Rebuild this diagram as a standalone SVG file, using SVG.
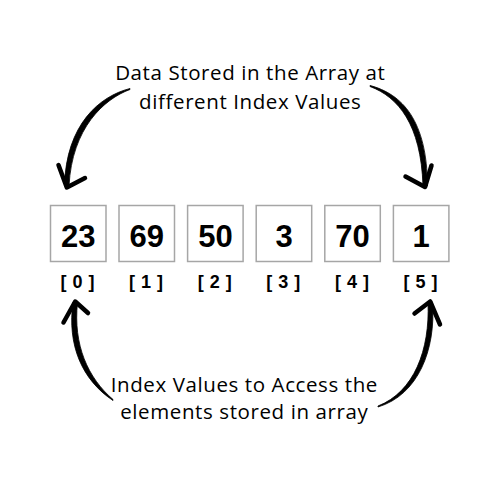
<svg xmlns="http://www.w3.org/2000/svg" width="500" height="500" viewBox="0 0 500 500">
<style>
.cell{fill:#fff;stroke:#a6a6a6;stroke-width:1.5}
.val{font-family:"Liberation Sans",Arial,sans-serif;font-weight:bold;font-size:31px;fill:#000;text-anchor:middle}
.idx{font-family:"Liberation Sans",Arial,sans-serif;font-weight:bold;font-size:18px;fill:#000;text-anchor:middle;letter-spacing:6px}
.cap{font-family:"Open Sans","Liberation Sans",sans-serif;font-size:20.5px;fill:#000;text-anchor:middle;letter-spacing:0.6px}
.arm{fill:none;stroke:#000;stroke-width:4.5;stroke-linecap:round;stroke-linejoin:round}
.shaft{fill:#000;stroke:#000;stroke-width:0.8;stroke-linejoin:round}
</style>
<rect width="500" height="500" fill="#fff"/>
<g id="caption-top"><text class="cap" x="250.3" y="79.5">Data Stored in the Array at</text><text class="cap" x="250.3" y="108.5">different Index Values</text></g>
<g id="caption-bottom"><text class="cap" x="244.3" y="391.5">Index Values to Access the</text><text class="cap" x="244.3" y="418.5">elements stored in array</text></g>
<g id="cell0"><rect class="cell" x="50.5" y="205.5" width="55.5" height="56"/><text class="val" x="78.2" y="247">23</text><text class="idx" x="80.5" y="288">[0]</text></g>
<g id="cell1"><rect class="cell" x="119" y="205.5" width="55.5" height="56"/><text class="val" x="146.8" y="247">69</text><text class="idx" x="149.1" y="288">[1]</text></g>
<g id="cell2"><rect class="cell" x="187.6" y="205.5" width="55.5" height="56"/><text class="val" x="215.4" y="247">50</text><text class="idx" x="217.7" y="288">[2]</text></g>
<g id="cell3"><rect class="cell" x="256.2" y="205.5" width="55.5" height="56"/><text class="val" x="284" y="247">3</text><text class="idx" x="286.3" y="288">[3]</text></g>
<g id="cell4"><rect class="cell" x="324.8" y="205.5" width="55.5" height="56"/><text class="val" x="352.6" y="247">70</text><text class="idx" x="354.9" y="288">[4]</text></g>
<g id="cell5"><rect class="cell" x="393.4" y="205.5" width="55.5" height="56"/><text class="val" x="421.2" y="247">1</text><text class="idx" x="423.5" y="288">[5]</text></g>
<g id="connectors">
<path class="shaft" d="M130,88.5 C100,96 66,124 64.5,186 L69,186 C72,128 104,99 130,89.5 Z"/>
<path class="arm" d="M58.5,165 L66.8,187.5 L85,178"/>
<path class="shaft" d="M370,85.5 C402,94 427,120 427.5,186 L423,186 C421,124 398,97 370,86.5 Z"/>
<path class="arm" d="M405.5,176.5 L425,187 L431.5,165.5"/>
<path class="shaft" d="M113,400.5 C82,380 67,345 73,302 L77.5,302.5 C73,345 88,378 113,399.5 Z"/>
<path class="arm" d="M63.5,322.5 L75.2,301.5 L88,313"/>
<path class="shaft" d="M378,407 C418,395 436,350 432.5,302 L428,302.5 C430,350 414,392 378,406 Z"/>
<path class="arm" d="M414.5,313.5 L430.2,301.5 L440,324.5"/>
</g>
</svg>
